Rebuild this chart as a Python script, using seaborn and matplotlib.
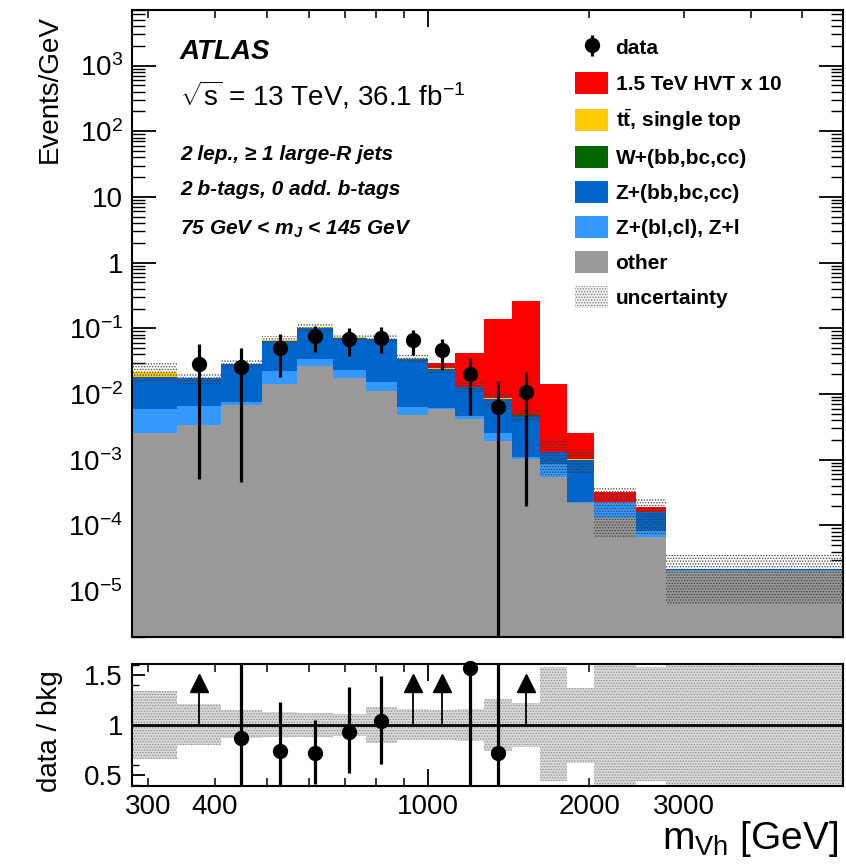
import numpy as np
import pandas as pd
import matplotlib
matplotlib.use("Agg")
import matplotlib.pyplot as plt
import seaborn as sns
from matplotlib.patches import Patch
from matplotlib.ticker import FixedLocator, FuncFormatter, NullFormatter, MultipleLocator

# ---------------- data ----------------
bin_edges = [280, 340, 410, 490, 570, 665, 765, 875, 1000, 1125, 1270,
             1435, 1615, 1815, 2040, 2440, 2785, 5950]

other   = [2.57e-3, 3.36e-3, 6.7e-3, 1.416e-2, 2.66e-2, 1.77e-2, 1.12e-2, 4.76e-3,
           5.82e-3, 4.1e-3, 1.91e-3, 1.03e-3, 5.47e-4, 2.19e-4, 1.3e-4, 6.65e-5, 2.0e-5]
z_light = [3.25e-3, 3.24e-3, 9.0e-4, 8.44e-3, 7.8e-3, 5.4e-3, 4.2e-3, 1.6e-3,
           2.0e-4, 5.0e-4, 6.0e-4, 7.0e-5, 3.0e-4, 6.0e-6, 9.8e-5, 1.55e-5, 1.0e-6]
z_hf    = [1.25e-2, 1.07e-2, 2.09e-2, 4.19e-2, 6.81e-2, 4.84e-2, 5.33e-2, 2.81e-2,
           1.83e-2, 8.0e-3, 6.0e-3, 3.6e-3, 4.5e-4, 7.75e-4, 2.0e-6, 7.8e-5, 1.0e-6]
w_hf    = [2.0e-5, 2.0e-5, 3.0e-5, 5.0e-5, 5.0e-5, 4.0e-5, 3.0e-5, 2.0e-5,
           2.0e-5, 1.0e-5, 1.0e-5, 1.0e-5, 2.0e-6, 1.0e-6, 0.0, 0.0, 0.0]
ttbar   = [3.6e-3, 1.0e-4, 6.0e-4, 1.9e-3, 2.0e-3, 1.0e-3, 6.0e-4, 3.0e-4,
           2.0e-4, 1.0e-4, 7.0e-5, 1.0e-4, 1.0e-5, 1.0e-5, 0.0, 0.0, 0.0]
hvt_x10 = [0.0, 0.0, 0.0, 0.0, 0.0, 0.0, 0.0, 0.0,
           4.7e-3, 2.89e-2, 1.284e-1, 2.592e-1, 1.27e-2, 1.56e-3, 9.3e-5, 3.0e-5, 0.0]

# data (Events/GeV) with the upper / lower ends of the error bars; nan = no entry
data    = [np.nan, 0.0286, 0.0254, 0.0496, 0.0760, 0.0680, 0.0720, 0.0660,
           0.0467, 0.0200, 0.00625, 0.0108, np.nan, np.nan, np.nan, np.nan, np.nan]
data_hi = [np.nan, 0.057, 0.050, 0.082, 0.110, 0.100, 0.1035, 0.094,
           0.0687, 0.035, 0.0157, 0.0218, np.nan, np.nan, np.nan, np.nan, np.nan]
data_lo = [np.nan, 5.0e-4, 4.5e-4, 0.018, 0.043, 0.038, 0.0425, 0.039,
           0.0231, 0.0048, 0.0, 1.95e-4, np.nan, np.nan, np.nan, np.nan, np.nan]

# relative background uncertainty (upper / lower edge of the band in data/bkg units)
unc_up = [1.34, 1.21, 1.15, 1.13, 1.12, 1.11, 1.18, 1.16, 1.15, 1.16, 1.26, 1.22,
          1.58, 1.37, 1.68, 1.58, 1.65]
unc_dn = [0.66, 0.80, 0.87, 0.88, 0.88, 0.89, 0.82, 0.85, 0.85, 0.84, 0.74, 0.78,
          0.44, 0.62, 0.29, 0.44, 0.29]

labels = ["1.5 TeV HVT x 10", r"$\mathbf{t}\bar{\mathbf{t}}$, single top",
          "W+(bb,bc,cc)", "Z+(bb,bc,cc)", "Z+(bl,cl), Z+l", "other"]
colors = ["#ff0000", "#ffcc00", "#006600", "#0066cc", "#3399ff", "#999999"]

y_decades = [-5, -4, -3, -2, -1, 0, 1, 2, 3]
x_major_ticks = [1000]
x_minor_ticks = [300, 400, 500, 600, 700, 800, 900, 2000, 3000, 4000, 5000]
x_tick_labels = {300: "300", 400: "400", 1000: "1000", 2000: "2000", 3000: "3000"}

# ---------------- style ----------------
sns.set_theme(style="ticks")
plt.rcParams.update({
    "font.family": ["Liberation Sans", "DejaVu Sans"],
    "mathtext.fontset": "custom",
    "mathtext.rm": "Liberation Sans",
    "mathtext.it": "Liberation Sans:italic:bold",
    "mathtext.bf": "Liberation Sans:bold",
    "axes.linewidth": 1.5,
    "hatch.linewidth": 0.6,
    "text.color": "black",
    "axes.labelcolor": "black",
    "xtick.color": "black", "ytick.color": "black",
    "xtick.labelcolor": "black", "ytick.labelcolor": "black",
    "axes.edgecolor": "black",
})

fig = plt.figure(figsize=(8.46, 8.66), dpi=100)
ax = fig.add_axes([0.1560, 0.26443, 0.8404, 0.7240])
axr = fig.add_axes([0.1560, 0.09238, 0.8404, 0.14088])

ax.set_xscale("log")
ax.set_yscale("log")
axr.set_xscale("log")

edges = np.array(bin_edges, float)
centers = np.sqrt(edges[:-1] * edges[1:])
series = [hvt_x10, ttbar, w_hf, z_hf, z_light, other]

df = pd.DataFrame({
    "center": np.tile(centers, len(series)),
    "value": np.concatenate([np.asarray(s, float) for s in series]),
    "process": np.repeat(labels, len(centers)),
})

sns.histplot(data=df, x="center", weights="value", hue="process",
             hue_order=labels, palette=colors, multiple="stack",
             bins=[float(v) for v in np.log10(edges)], element="bars", fill=True, alpha=1,
             linewidth=0, edgecolor="none", legend=False, ax=ax)

bkg = (np.asarray(other) + np.asarray(z_light) + np.asarray(z_hf)
       + np.asarray(w_hf) + np.asarray(ttbar))
up = np.asarray(unc_up)
dn = np.asarray(unc_dn)

ax.fill_between(edges, np.r_[bkg * dn, bkg[-1] * dn[-1]],
                np.r_[bkg * up, bkg[-1] * up[-1]], step="post",
                facecolor="none", edgecolor="#3a3a3a", hatch="......",
                linewidth=0, zorder=3)

d = np.asarray(data, float)
dh = np.asarray(data_hi, float)
dl = np.asarray(data_lo, float)
m = ~np.isnan(d)
eb = ax.errorbar(centers[m], d[m], yerr=[d[m] - dl[m], dh[m] - d[m]], fmt="o",
                 color="black", ms=10, elinewidth=2.3, capsize=0, zorder=6)

ax.set_xlim(280, 5950)
ax.set_ylim(2e-6, 7e3)
ax.set_xlabel("")
ax.set_ylabel("Events/GeV", fontsize=20, loc="top")
ax.yaxis.set_label_coords(-0.097, 0.992)

def log_fmt(v, pos):
    e = int(round(np.log10(v)))
    if e == 0:
        return "1"
    if e == 1:
        return "10"
    return r"$\mathdefault{10^{%d}}$" % e

ax.yaxis.set_major_locator(FixedLocator([10.0 ** e for e in y_decades]))
ax.yaxis.set_minor_locator(FixedLocator(
    [k * 10.0 ** e for e in range(-6, 4) for k in range(2, 10)
     if 2e-6 <= k * 10.0 ** e <= 7e3]))
ax.yaxis.set_major_formatter(FuncFormatter(log_fmt))
ax.yaxis.set_minor_formatter(NullFormatter())

for a in (ax, axr):
    a.xaxis.set_major_locator(FixedLocator(x_major_ticks))
    a.xaxis.set_minor_locator(FixedLocator(x_minor_ticks))
ax.xaxis.set_major_formatter(NullFormatter())
ax.xaxis.set_minor_formatter(NullFormatter())
tick_lbl = FuncFormatter(lambda v, p: x_tick_labels.get(int(round(v)), ""))
axr.xaxis.set_major_formatter(tick_lbl)
axr.xaxis.set_minor_formatter(FuncFormatter(lambda v, p: x_tick_labels.get(int(round(v)), "")))

for a in (ax, axr):
    a.tick_params(which="both", direction="in", top=True, right=True,
                  labelsize=20, color="black")
    a.tick_params(axis="x", which="major", length=12, width=1.3, pad=6)
    a.tick_params(axis="x", which="minor", length=6, width=1.1, pad=6)
ax.tick_params(axis="y", which="major", length=17, width=1.3, pad=6.5)
ax.tick_params(axis="y", which="minor", length=9, width=1.0)

# legend
handles = [eb] + [Patch(facecolor=c, edgecolor="none") for c in colors] + \
          [Patch(facecolor="#efefef", edgecolor="#777777", hatch="......", linewidth=0)]
leg_labels = ["data"] + labels + ["uncertainty"]
ax.legend(handles, leg_labels, loc="upper left", bbox_to_anchor=(0.623, 0.958),
          frameon=False, prop={"weight": "bold", "size": 15},
          handlelength=1.6, handleheight=1.25, handletextpad=0.35,
          labelspacing=0.63, borderpad=0, borderaxespad=0, labelcolor="black")

# ATLAS labels
tx = 0.0675
ax.text(tx, 0.933, "ATLAS", transform=ax.transAxes, fontsize=20,
        fontweight="bold", fontstyle="italic", va="center", ha="left")
ax.text(tx, 0.864, r"$\sqrt{\mathrm{s}}$ = 13 TeV, 36.1 fb$^{\mathrm{-1}}$",
        transform=ax.transAxes, fontsize=20, va="center", ha="left")
ax.text(tx, 0.770, "2 lep., \u2265 1 large-R jets", transform=ax.transAxes,
        fontsize=15, fontweight="bold", fontstyle="italic", va="center", ha="left")
ax.text(tx, 0.714, "2 b-tags, 0 add. b-tags", transform=ax.transAxes,
        fontsize=15, fontweight="bold", fontstyle="italic", va="center", ha="left")
ax.text(tx, 0.650, "75 GeV < $m_{J}$ < 145 GeV", transform=ax.transAxes,
        fontsize=15, fontweight="bold", fontstyle="italic", va="center", ha="left")

# ---------------- ratio panel ----------------
ylo, yhi = 0.395, 1.61
axr.fill_between(edges, np.r_[dn, dn[-1]], np.r_[up, up[-1]], step="post",
                 facecolor="#d9d9d9", edgecolor="#8c8c8c", hatch="......",
                 linewidth=0, zorder=1)
axr.axhline(1.0, color="black", lw=2.0, zorder=3)

ratio = d / bkg
r_hi = dh / bkg
r_lo = dl / bkg
inr = m & (ratio <= yhi)
outr = m & (ratio > yhi)
axr.vlines(centers[inr], r_lo[inr], r_hi[inr], color="black", lw=2.3, zorder=4)
axr.plot(centers[inr], ratio[inr], "o", color="black", ms=10, zorder=5, clip_on=False)
axr.vlines(centers[outr], 1.0, 1.36, color="black", lw=1.3, zorder=4)
axr.plot(centers[outr], np.full(outr.sum(), 1.42), "^", color="black", ms=13, zorder=5)

axr.set_xlim(280, 5950)
axr.set_ylim(ylo, yhi)
axr.yaxis.set_major_locator(FixedLocator([0.5, 1.0, 1.5]))
axr.yaxis.set_major_formatter(FuncFormatter(lambda v, p: "%g" % v))
axr.yaxis.set_minor_locator(FixedLocator([0.4, 0.6, 0.7, 0.8, 0.9, 1.1, 1.2, 1.3, 1.4, 1.6]))
axr.yaxis.set_minor_formatter(NullFormatter())
axr.tick_params(axis="y", which="major", length=9, width=1.3, pad=6.5)
axr.tick_params(axis="y", which="minor", length=5, width=1.0)
axr.set_ylabel("data / bkg", fontsize=20)
axr.yaxis.set_label_coords(-0.097, 0.45)
axr.set_xlabel(r"$\mathrm{m}_{\mathrm{Vh}}$ [GeV]", fontsize=28, loc="right")
axr.xaxis.set_label_coords(0.994, -0.27)

fig.savefig("out.png", dpi=100)
